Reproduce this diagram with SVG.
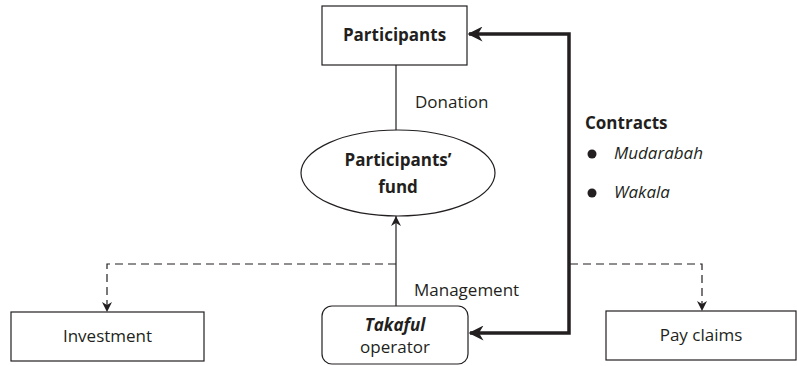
<svg xmlns="http://www.w3.org/2000/svg" width="797" height="366" viewBox="0 0 797 366">
<defs>
<style>
text{font-family:"Open Sans","Liberation Sans",sans-serif;font-size:17px;fill:#231f20}
.b{font-weight:bold}
.i{font-style:italic}
.m{text-anchor:middle}
.box{fill:#fff;stroke:#231f20;stroke-width:1.2}
.ln{fill:none;stroke:#231f20;stroke-width:1.2}
.ds{fill:none;stroke:#231f20;stroke-width:1.2;stroke-dasharray:8,5}
.th{fill:none;stroke:#231f20;stroke-width:3.5}
</style>
<marker id="ah" viewBox="0 0 10 10" refX="10" refY="5" markerWidth="10" markerHeight="11" markerUnits="userSpaceOnUse" orient="auto"><path d="M0,0 L10,5 L0,10 L3,5 Z" fill="#231f20"/></marker>
<marker id="ahb" viewBox="0 0 10 10" refX="9" refY="5" markerWidth="19" markerHeight="15" markerUnits="userSpaceOnUse" orient="auto-start-reverse"><path d="M0,0 L10,5 L0,10 L3,5 Z" fill="#231f20"/></marker>
</defs>
<g id="connectors">
<line class="ln" x1="396" y1="65" x2="396" y2="130"/>
<line class="ln" x1="396" y1="306" x2="396" y2="216" marker-end="url(#ah)"/>
<polyline class="ds" points="396,264 107,264 107,312" marker-end="url(#ah)"/>
<polyline class="ds" points="570,264 702,264 702,311" marker-end="url(#ah)"/>
<polyline class="th" points="470,333 569,333 569,34 469,34" marker-start="url(#ahb)" marker-end="url(#ahb)"/>
<text x="415" y="108">Donation</text>
<text x="414" y="296">Management</text>
</g>
<g id="participants">
<rect class="box" x="322" y="6" width="145" height="59"/>
<text class="b m" x="394.5" y="41">Participants</text>
</g>
<g id="fund">
<ellipse class="box" cx="398" cy="173" rx="97" ry="43"/>
<text class="b m" x="398" y="166">Participants’</text>
<text class="b m" x="398" y="193">fund</text>
</g>
<g id="contracts">
<text class="b" x="585" y="129">Contracts</text>
<circle cx="592" cy="154" r="4.5" fill="#231f20"/>
<text class="i" x="614" y="159">Mudarabah</text>
<circle cx="592" cy="193" r="4.5" fill="#231f20"/>
<text class="i" x="614" y="198">Wakala</text>
</g>
<g id="investment">
<rect class="box" x="11" y="312" width="193" height="49"/>
<text class="m" x="107.5" y="342">Investment</text>
</g>
<g id="takaful">
<rect class="box" x="322" y="306" width="146" height="58" rx="10"/>
<text class="m" x="395" y="331"><tspan class="b i">Takaful</tspan></text>
<text class="m" x="395" y="353">operator</text>
</g>
<g id="payclaims">
<rect class="box" x="606" y="311" width="190" height="49"/>
<text class="m" x="701" y="341">Pay claims</text>
</g>
</svg>
